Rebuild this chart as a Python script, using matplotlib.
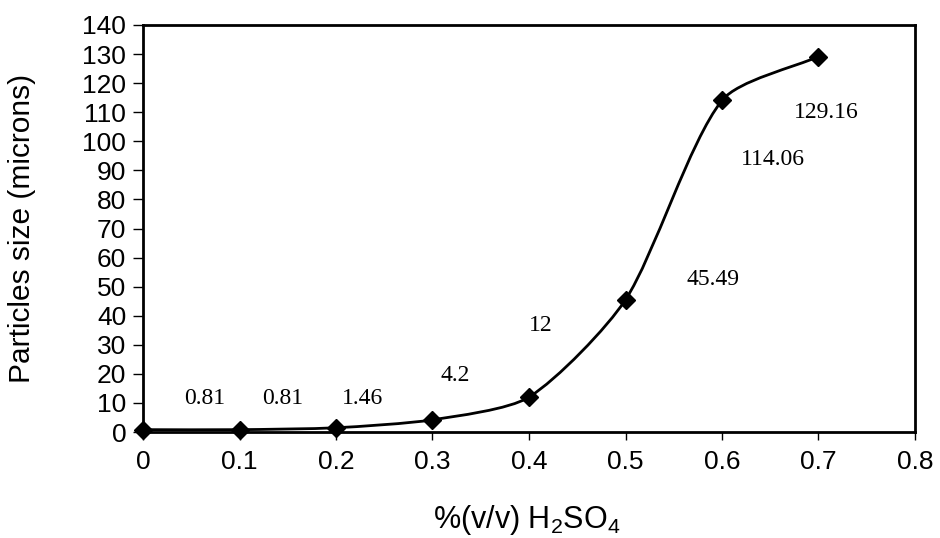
import numpy as np
import matplotlib
matplotlib.use("Agg")
import matplotlib.pyplot as plt
from matplotlib.path import Path
from matplotlib.patches import PathPatch

conc = [0.0, 0.1, 0.2, 0.3, 0.4, 0.5, 0.6, 0.7]
size = [0.81, 0.81, 1.46, 4.2, 12, 45.49, 114.06, 129.16]
labels = ["0.81", "0.81", "1.46", "4.2", "12", "45.49", "114.06", "129.16"]
label_pos = [(0.064, 11.4), (0.145, 11.4), (0.228, 11.4), (0.323, 19.3),
             (0.412, 36.5), (0.591, 52.3), (0.653, 93.6), (0.708, 110.0)]
xticks = [0, 0.1, 0.2, 0.3, 0.4, 0.5, 0.6, 0.7, 0.8]
xticklabels = ["0", "0.1", "0.2", "0.3", "0.4", "0.5", "0.6", "0.7", "0.8"]
yticks = list(range(0, 141, 10))

plt.rcParams["mathtext.fontset"] = "custom"
plt.rcParams["mathtext.rm"] = "Liberation Sans"
plt.rcParams["mathtext.it"] = "Liberation Sans"

fig = plt.figure(figsize=(9.4, 5.38), dpi=100)
ax = fig.add_axes([143/940, 1-432/538, (915-143)/940, (432-25)/538])
ax.set_xlim(0, 0.8)
ax.set_ylim(0, 140)

# smoothed line computed in screen space (tangent from neighbours,
# control length proportional to segment length)
P = ax.transData.transform(np.column_stack([conc, size]))
n = len(P)
tension = 0.24
verts = [P[0]]
codes = [Path.MOVETO]
def tangent(i):
    a = P[max(i-1, 0)]; b = P[min(i+1, n-1)]
    d = b - a
    return d / np.hypot(*d)
for i in range(n-1):
    p1, p2 = P[i], P[i+1]
    L = np.hypot(*(p2 - p1))
    c1 = p1 + tangent(i) * L * tension
    c2 = p2 - tangent(i+1) * L * tension
    verts += [c1, c2, p2]
    codes += [Path.CURVE4]*3
verts_data = ax.transData.inverted().transform(np.array(verts))
ax.add_patch(PathPatch(Path(verts_data, codes), fill=False, lw=2,
                       color="black"))
ax.plot(conc, size, linestyle="none", marker="D", markersize=9,
        color="black", clip_on=False, zorder=5)

for t, (lx, ly) in zip(labels, label_pos):
    ax.text(lx, ly, t, ha="center", va="center", fontsize=17,
            family="Liberation Serif")

ax.set_xticks(xticks)
ax.set_xticklabels(xticklabels)
ax.set_yticks(yticks)
for s in ax.spines.values():
    s.set_linewidth(2)
ax.tick_params(axis="x", direction="out", length=6, width=1,
               labelsize=19, pad=7)
ax.tick_params(axis="y", direction="out", length=7, width=1,
               labelsize=19, pad=5)
for lab in ax.get_xticklabels() + ax.get_yticklabels():
    lab.set_family("Liberation Sans")
ax.set_ylabel("Particles size (microns)", fontsize=21.5, family="Liberation Sans",
              va="center")
ax.set_xlabel("%(v/v) H$_2$SO$_4$", fontsize=22, family="Liberation Sans",
              va="center")
ax.yaxis.set_label_coords((22-143)/(915-143), (432-228)/(432-25))
ax.xaxis.set_label_coords((527-143)/(915-143), -(520-432)/(432-25))
fig.savefig("out.png", dpi=100)
